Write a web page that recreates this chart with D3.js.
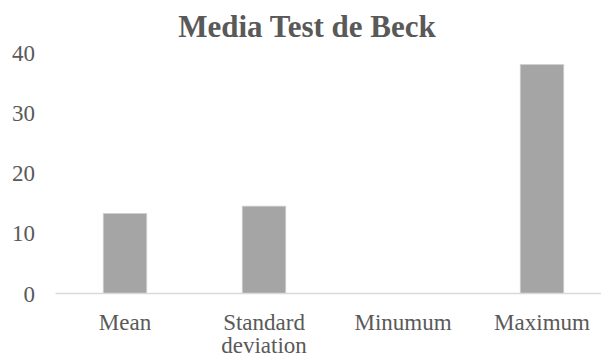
<!DOCTYPE html>
<html>
<head>
<meta charset="utf-8">
<script src="https://cdn.jsdelivr.net/npm/d3@7"></script>
<style>
  html, body { margin: 0; padding: 0; background: #fff; }
  svg { display: block; }
  text { font-family: "Liberation Serif", Tinos, "Times New Roman", "DejaVu Serif", serif; }
</style>
</head>
<body>
<svg id="chart" width="601" height="358"></svg>
<script>
// Summary statistics of the Beck test scores
const categories = ["Mean", "Standard deviation", "Minumum", "Maximum"];
const values = [13.3, 14.5, 0, 38];
const yTicks = [0, 10, 20, 30, 40];
const title = "Media Test de Beck";

const W = 601, H = 358;
const plot = { left: 55.5, right: 611.5, top: 52.5, bottom: 293.5 };
const textColor = "#595959";

const svg = d3.select("#chart");

const x = d3.scaleBand()
  .domain(categories)
  .range([plot.left, plot.right])
  .paddingInner(0.687)
  .paddingOuter(0.3435);

const y = d3.scaleLinear()
  .domain([0, 40])
  .range([plot.bottom, plot.top]);

// Title
svg.append("text")
  .attr("x", 307)
  .attr("y", 37)
  .attr("text-anchor", "middle")
  .attr("font-weight", "bold")
  .attr("font-size", 31)
  .attr("fill", textColor)
  .text(title);

// Y axis labels (no axis line, no gridlines)
const yAxis = d3.axisLeft(y).tickValues(yTicks).tickSize(0).tickPadding(0);
const yg = svg.append("g")
  .attr("transform", "translate(35,0)")
  .call(yAxis)
  .attr("font-family", null);
yg.select(".domain").remove();
yg.selectAll("text")
  .attr("font-size", 23)
  .attr("fill", textColor)
  .attr("dy", "0.33em");

// Bars
svg.append("g")
  .selectAll("rect")
  .data(categories.map((c, i) => ({ c, v: values[i] })))
  .join("rect")
  .attr("x", d => x(d.c))
  .attr("width", x.bandwidth())
  .attr("y", d => y(d.v))
  .attr("height", d => y(0) - y(d.v))
  .attr("fill", "#a5a5a5")
  .attr("stroke", "#d0d0d0")
  .attr("stroke-width", 0.75);

// Baseline
svg.append("line")
  .attr("x1", plot.left)
  .attr("x2", W)
  .attr("y1", y(0))
  .attr("y2", y(0))
  .attr("stroke", "#d9d9d9")
  .attr("stroke-width", 1.5);

// Category labels, wrapped onto two lines where needed
const xAxis = d3.axisBottom(x).tickSize(0).tickPadding(0);
const xg = svg.append("g")
  .call(xAxis)
  .attr("font-family", null);
xg.select(".domain").remove();
xg.selectAll(".tick text").each(function(d) {
  const t = d3.select(this);
  const words = d === "Standard deviation" ? ["Standard", "deviation"] : [d];
  t.text(null)
    .attr("y", null)
    .attr("dy", null)
    .attr("font-size", 23)
    .attr("fill", textColor);
  words.forEach((w, i) => {
    t.append("tspan")
      .attr("x", 0)
      .attr("y", 330 + i * 23)
      .text(w);
  });
});
</script>
</body>
</html>
